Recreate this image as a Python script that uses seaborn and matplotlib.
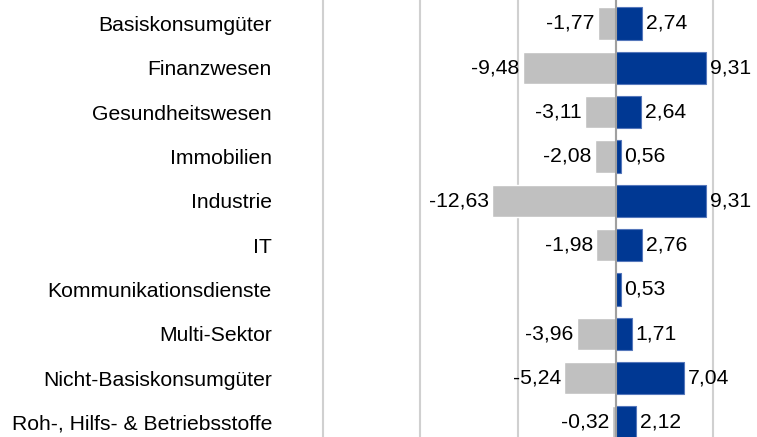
import matplotlib
matplotlib.use('Agg')
import matplotlib.pyplot as plt
import seaborn as sns
import pandas as pd
import numpy as np

sectors = ['Basiskonsumgüter', 'Finanzwesen', 'Gesundheitswesen', 'Immobilien',
           'Industrie', 'IT', 'Kommunikationsdienste', 'Multi-Sektor',
           'Nicht-Basiskonsumgüter', 'Roh-, Hilfs- & Betriebsstoffe']
negative = [-1.77, -9.48, -3.11, -2.08, -12.63, -1.98, np.nan, -3.96, -5.24, -0.32]
positive = [2.74, 9.31, 2.64, 0.56, 9.31, 2.76, 0.53, 1.71, 7.04, 2.12]
grid_ticks = [-30, -20, -10, 0, 10]

sns.set_theme(style='white')
plt.rcParams['font.family'] = ['Liberation Sans', 'DejaVu Sans']

fig = plt.figure(figsize=(7.57, 4.37), dpi=100)
ax = fig.add_axes([320 / 757, 0, 437 / 757, 1])

df = pd.DataFrame({
    'Sektor': sectors * 2,
    'Wert': negative + positive,
    'Serie': ['neg'] * len(sectors) + ['pos'] * len(sectors),
})

sns.barplot(data=df, y='Sektor', x='Wert', hue='Serie', orient='h',
            palette={'neg': '#C0C0C0', 'pos': '#003893'}, saturation=1,
            dodge=False, width=0.73, legend=False, ax=ax, errorbar=None)

for bar in ax.containers[1]:
    bar.set_edgecolor('#5577bb')
    bar.set_linewidth(0.8)

# data labels with German decimal comma
for cont in ax.containers:
    labels = ['' if np.isnan(v) else f'{v:.2f}'.replace('.', ',') for v in cont.datavalues]
    ax.bar_label(cont, labels=labels, padding=2.5, fontsize=15.2, color='black')

ax.axvline(0, color='#A0A0A0', lw=1.5, zorder=5)

ax.set_xlim(-30.3, 14.5)
ax.set_ylim(9.33, -0.53)
ax.set_xticks(grid_ticks)
ax.set_xticklabels([])
ax.xaxis.grid(True, color='#D0D0D0', linewidth=1.5)
ax.set_axisbelow(True)
ax.tick_params(axis='y', length=0, pad=34.6, labelsize=15.2, labelcolor='black')
ax.tick_params(axis='x', length=0)
ax.set_xlabel('')
ax.set_ylabel('')
for s in ax.spines.values():
    s.set_visible(False)

fig.savefig('out.png', dpi=100)
